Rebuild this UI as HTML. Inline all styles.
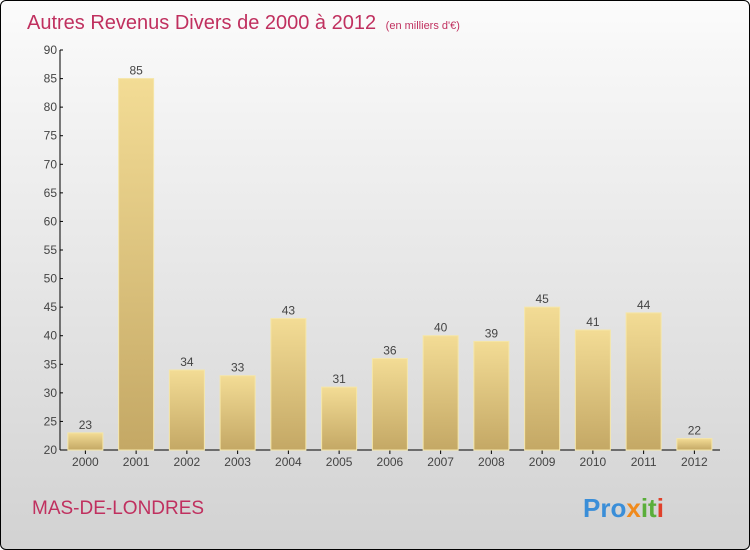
<!DOCTYPE html>
<html><head><meta charset="utf-8"><style>
body{margin:0}
#c{width:748px;height:548px;border:1px solid #000;border-radius:6px;overflow:hidden;background:linear-gradient(#fbfbfb,#d2d2d2);position:relative;font-family:"Liberation Sans",sans-serif}
</style></head><body>
<div id="c">
<svg width="748" height="548" viewBox="1 1 748 548">
<defs><linearGradient id="g" x1="0" y1="0" x2="0" y2="1"><stop offset="0" stop-color="#f3dc95"/><stop offset="1" stop-color="#c4a865"/></linearGradient></defs>
<text x="27" y="29" font-size="20" fill="#c0305f">Autres Revenus Divers de 2000 à 2012 <tspan font-size="11" dx="4">(en milliers d'€)</tspan></text>
<g id="axes"></g><g id="bars"></g>
<text x="32" y="514" font-size="19" fill="#c0305f">MAS-DE-LONDRES</text>
<text x="583" y="517" font-size="26" font-weight="bold"><tspan fill="#3a8ed8">Pro</tspan><tspan fill="#f08a1c">x</tspan><tspan fill="#5aae3a">it</tspan><tspan fill="#e0402a">i</tspan></text>
</svg></div>
<script>
const years=["2000","2001","2002","2003","2004","2005","2006","2007","2008","2009","2010","2011","2012"];
const values=[23,85,34,33,43,31,36,40,39,45,41,44,22];
const ticks=[20,25,30,35,40,45,50,55,60,65,70,75,80,85,90];
const NS="http://www.w3.org/2000/svg";
const x0=60,slot=50.75,bw=35,yMin=20,yMax=90,yTop=50,yBot=450;
const y=v=>yBot-(v-yMin)/(yMax-yMin)*(yBot-yTop);
const xc=i=>x0+slot*(i+0.5);
function mk(t,a,p){const e=document.createElementNS(NS,t);for(const k in a)e.setAttribute(k,a[k]);p.appendChild(e);return e;}
const ax=document.getElementById('axes'),bg=document.getElementById('bars');
const yl=mk('line',{x1:x0,y1:yTop,x2:x0,y2:yBot,stroke:'#000'},ax);


const xl=mk('line',{x1:x0,y1:yBot,x2:720,y2:yBot,stroke:'#000'},ax);


ticks.forEach(t=>{mk('line',{x1:x0,y1:y(t),x2:x0+3,y2:y(t),stroke:'#000'},ax);
const tx=mk('text',{x:x0-3,y:y(t)+4,'font-size':12,'text-anchor':'end',fill:'#444'},ax);tx.textContent=t;

});
years.forEach((yr,i)=>{const v=values[i];
mk('line',{x1:xc(i),y1:yBot,x2:xc(i),y2:yBot+4,stroke:'#000'},ax);
const lb=mk('text',{x:xc(i),y:yBot+16,'font-size':12,'text-anchor':'middle',fill:'#444'},ax);lb.textContent=yr;


const r=mk('rect',{x:xc(i)-bw/2,y:y(v),width:bw,height:yBot-y(v),fill:'url(#g)',stroke:'#f5e6a8','stroke-width':1},bg);


const vl=mk('text',{x:xc(i),y:y(v)-4,'font-size':12,'text-anchor':'middle',fill:'#444'},bg);vl.textContent=v;

});
</script>
</body></html>
